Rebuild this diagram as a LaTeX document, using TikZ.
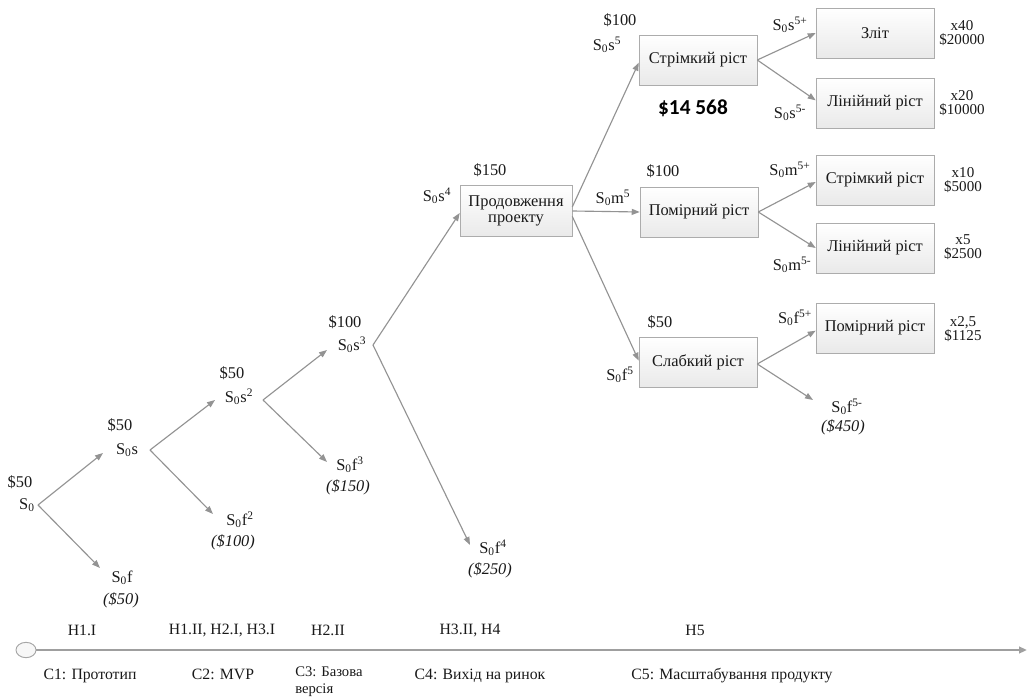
\documentclass[tikz,border=0pt]{standalone}
\usepackage{fontspec}
\setmainfont{Liberation Serif}
\newfontfamily\sumfont{Carlito}
\usetikzlibrary{arrows.meta,shapes.geometric}
\begin{document}
\begin{tikzpicture}[x=0.75pt,y=-0.75pt,
  txt/.style={inner sep=0pt, text=black!90, font=\fontsize{12.3}{13}\selectfont},
  loss/.style={inner sep=0pt, text=black!90, font=\fontsize{12.3}{13}\selectfont\itshape},
  mult/.style={inner sep=0pt, text=black!90, align=center, font=\fontsize{11.3}{10.3}\selectfont},
  stagebox/.style={draw=gray!65, top color=white, bottom color=gray!17, minimum width=88.5pt,
    minimum height=37.5pt, inner sep=2pt, align=center, text=black!90,
    font=\fontsize{12.3}{12.5}\selectfont},
  flow/.style={draw=gray!85, line width=0.85pt, -{Triangle[length=6pt,width=4.5pt]}},
  tl/.style={inner sep=0pt, text=black!90, font=\fontsize{11.8}{12}\selectfont},
]
\useasboundingbox (0,0) rectangle (1028,698);

% ---- early stages: plain text states ----
\node[txt] (v0) at (20,482) {\$50};
\node[txt] (s0) at (27,505) {S\textsubscript{0}};
\node[txt] (v1) at (120,425) {\$50};
\node[txt] (s1) at (127,450) {S\textsubscript{0}s};
\node[txt] (f1) at (122,578) {S\textsubscript{0}f};
\node[loss] (l1) at (121,600) {(\$50)};
\node[txt] (v2) at (232,373) {\$50};
\node[txt] (s2) at (239,397) {S\textsubscript{0}s\textsuperscript{2}};
\node[txt] (f2) at (240,520) {S\textsubscript{0}f\textsuperscript{2}};
\node[loss] (l2) at (233,542) {(\$100)};
\node[txt] (v3) at (345,322) {\$100};
\node[txt] (s3) at (352,345) {S\textsubscript{0}s\textsuperscript{3}};
\node[txt] (f3) at (350,465) {S\textsubscript{0}f\textsuperscript{3}};
\node[loss] (l3) at (348,487) {(\$150)};
\node[txt] (s4) at (437,196) {S\textsubscript{0}s\textsuperscript{4}};
\node[txt] (v4) at (490,170) {\$150};
\node[txt] (f4) at (493,548) {S\textsubscript{0}f\textsuperscript{4}};
\node[loss] (l4) at (490,570) {(\$250)};

% ---- arrow anchor points beside the state labels ----
\coordinate (o0) at (38,505);
\coordinate (e1s) at (103,453);
\coordinate (e1f) at (100,568);
\coordinate (o1) at (150,450);
\coordinate (e2s) at (215,400);
\coordinate (e2f) at (213,514);
\coordinate (o2) at (263,400);
\coordinate (e3s) at (327,350);
\coordinate (e3f) at (327,462);
\coordinate (o3) at (373,345);
\coordinate (e4f) at (470,545);

% ---- boxes ----
\node[stagebox, minimum width=84pt, minimum height=38.25pt] (prod) at (516,211) {Продовження\\проекту};
\node[stagebox] (fast) at (698,60) {Стрімкий ріст};
\node[stagebox] (mod) at (699,212) {Помірний ріст};
\node[stagebox] (weak) at (698,362) {Слабкий ріст};
\node[stagebox] (merge) at (875,33) {Зліт};
\node[stagebox] (lin1) at (875,103) {Лінійний ріст};
\node[stagebox] (fast2) at (875,180) {Стрімкий ріст};
\node[stagebox] (lin2) at (875,248) {Лінійний ріст};
\node[stagebox] (mod3) at (875,328) {Помірний ріст};

% ---- labels around the boxes ----
\node[txt] (s5) at (607,45) {S\textsubscript{0}s\textsuperscript{5}};
\node[txt] (v5s) at (620,20) {\$100};
\node[font=\sumfont\bfseries\fontsize{16}{18}\selectfont, inner sep=0pt] (total) at (693,108) {\$14 568};
\node[txt] (m5) at (613,198) {S\textsubscript{0}m\textsuperscript{5}};
\node[txt] (v5m) at (663,171) {\$100};
\node[txt] (fw5) at (620,375) {S\textsubscript{0}f\textsuperscript{5}};
\node[txt] (v5f) at (660,322) {\$50};

\node[txt] (sp) at (790,25) {S\textsubscript{0}s\textsuperscript{5+}};
\node[txt] (sm) at (790,113) {S\textsubscript{0}s\textsuperscript{5-}};
\node[txt] (mp) at (790,170) {S\textsubscript{0}m\textsuperscript{5+}};
\node[txt] (mm) at (792,265) {S\textsubscript{0}m\textsuperscript{5-}};
\node[txt] (fp) at (795,318) {S\textsubscript{0}f\textsuperscript{5+}};
\node[txt] (fm) at (847,407) {S\textsubscript{0}f\textsuperscript{5-}};
\node[loss] (l5) at (843,427) {(\$450)};
\coordinate (efm) at (813,400);

\node[mult] (r1) at (962,33) {x40\\\$20000};
\node[mult] (r2) at (962,103) {x20\\\$10000};
\node[mult] (r3) at (963,180) {x10\\\$5000};
\node[mult] (r4) at (963,247) {x5\\\$2500};
\node[mult] (r5) at (963,329) {x2,5\\\$1125};

% ---- connectors ----
\draw[flow] (o0) -- (e1s);
\draw[flow] (o0) -- (e1f);
\draw[flow] (o1) -- (e2s);
\draw[flow] (o1) -- (e2f);
\draw[flow] (o2) -- (e3s);
\draw[flow] (o2) -- (e3f);
\draw[flow] (o3) -- ([yshift=-1.5pt]prod.west);
\draw[flow] (o3) -- (e4f);

\draw[flow] ([yshift=3pt]prod.east) -- ([yshift=-2pt]fast.west);
\draw[flow] (prod.east) -- (mod.west);
\draw[flow] ([yshift=-4pt]prod.east) -- ([yshift=1pt]weak.west);

\draw[flow] (fast.east) -- (merge.west);
\draw[flow] (fast.east) -- ([yshift=2pt]lin1.west);
\draw[flow] (mod.east) -- ([yshift=-1.5pt]fast2.west);
\draw[flow] (mod.east) -- (lin2.west);
\draw[flow] ([yshift=-1.5pt]weak.east) -- ([yshift=-2pt]mod3.west);
\draw[flow] ([yshift=-1.5pt]weak.east) -- (efm);

% ---- timeline ----
\node[ellipse, draw=gray!70, fill=gray!6, line width=0.7pt, minimum width=15pt, minimum height=11.5pt, inner sep=0pt] (start) at (26,650) {};
\coordinate (tend) at (1027,650);
\draw[draw=gray!75, line width=1.5pt, -{Triangle[length=6pt,width=5pt]}] (start) -- (tend);

\node[tl] (h1) at (82,630) {H1.I};
\node[tl] (h2) at (222,630) {H1.II, H2.I, H3.I};
\node[tl] (h3) at (328,630) {H2.II};
\node[tl] (h4) at (470,630) {H3.II, H4};
\node[tl] (h5) at (695,630) {H5};

\node[tl, anchor=base] (c1) at (90,679) {C1: Прототип};
\node[tl, anchor=base] (c2) at (223,679) {C2: MVP};
\node[tl, anchor=north west, align=left, font=\fontsize{11}{12.5}\selectfont] (c3) at (295,667) {C3: Базова\\версія};
\node[tl, anchor=base] (c4) at (480,679) {C4: Вихід на ринок};
\node[tl, anchor=base] (c5) at (732,679) {C5: Масштабування продукту};
\end{tikzpicture}
\end{document}
